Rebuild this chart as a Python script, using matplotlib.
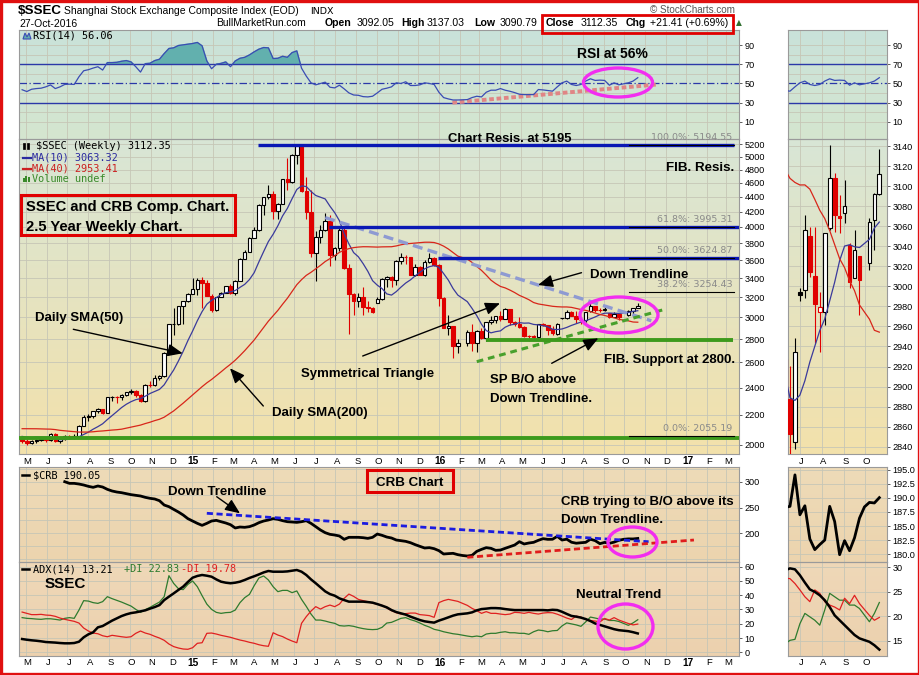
import numpy as np
import pandas as pd
import matplotlib
matplotlib.use('Agg')
import matplotlib.pyplot as plt
import matplotlib.dates as mdates
from matplotlib.patches import Ellipse, Rectangle, Polygon
from matplotlib.ticker import NullLocator, FixedLocator

plt.rcParams['font.family'] = ['Liberation Sans', 'DejaVu Sans']

# ---------------------------------------------------------------- DATA
gap_weeks = ['2016-02-12', '2016-10-07']          # no SSEC trading (holidays)
all_weeks = pd.date_range('2014-05-02', '2016-10-28', freq='W-FRI')
ssec_weeks = all_weeks[~all_weeks.isin(pd.to_datetime(gap_weeks))]
crb_weeks = pd.date_range('2014-07-04', '2016-10-28', freq='W-FRI')

pre_closes = [1992, 2010, 2029, 2052, 2085, 2057, 2098, 2139, 2236, 2191,
              2160, 2174, 2228, 2193, 2183, 2149, 2106, 2135, 2197, 2220,
              2238, 2204, 2085, 2101, 2083, 2013, 2004, 2054, 2033, 2115,
              2113, 2056, 2057, 1999, 2047, 2041, 2058, 2130, 2097, 2036]

opens = [2036, 2026, 2011, 2026, 2034, 2039, 2029, 2070, 2024, 2036,
         2059, 2047, 2059, 2126, 2185, 2194, 2226, 2240, 2217, 2326,
         2331, 2329, 2347, 2364, 2374, 2341, 2302, 2420, 2418, 2478,
         2487, 2683, 2937, 2938, 3108, 3157, 3235, 3285, 3376, 3351,
         3210, 3076, 3204, 3247, 3311, 3241, 3373, 3617, 3692, 3864,
         3958, 4287, 4393, 4442, 4206, 4309, 4657, 4611, 5023, 5166,
         4478, 4192, 3686, 3877, 3957, 4070, 3664, 3744, 3965, 3507,
         3232, 3160, 3200, 3097, 3092, 3143, 3183, 3391, 3412, 3383,
         3590, 3632, 3630, 3436, 3524, 3435, 3578, 3627, 3539, 3186,
         2900, 2916, 2737,
         2763, 2860, 2767, 2874, 2810, 2955, 2979, 3009, 2985, 3078,
         2960, 2938, 2913, 2827, 2825, 2822, 2938, 2927, 2888, 2845,
         2994, 2996, 3050, 3010, 2974, 2974, 3058, 3108, 3070, 3073,
         3041, 3008, 3030,
         3023, 3066, 3092.05]
highs = [2040, 2035, 2033, 2040, 2050, 2045, 2075, 2078, 2045, 2065,
         2062, 2070, 2130, 2200, 2205, 2230, 2248, 2245, 2330, 2335,
         2340, 2350, 2365, 2392, 2380, 2350, 2425, 2450, 2500, 2495,
         2690, 2940, 3091, 3110, 3165, 3240, 3400, 3400, 3406, 3384,
         3230, 3205, 3250, 3312, 3340, 3375, 3620, 3720, 3870, 4000,
         4300, 4400, 4572, 4480, 4320, 4660, 4986, 5050, 5178, 5176,
         4690, 4500, 3950, 4030, 4184, 4150, 3750, 4006, 4000, 3550,
         3240, 3240, 3300, 3160, 3100, 3200, 3400, 3420, 3420, 3600,
         3680, 3660, 3640, 3560, 3530, 3600, 3685, 3640, 3550, 3200,
         3020, 2920, 2800,
         2880, 2940, 2880, 2900, 2960, 3016, 3010, 3060, 3090, 3085,
         2965, 3000, 2920, 2840, 2840, 2940, 2950, 2930, 2921, 2948,
         2998, 3071, 3059, 3059, 2994, 3053, 3141, 3113, 3091, 3106,
         3043, 3056, 3030,
         3068, 3093, 3137.03]
lows = [2010, 1999, 2005, 2010, 2025, 2020, 2025, 2020, 2010, 2030,
        2040, 2040, 2055, 2125, 2160, 2180, 2215, 2205, 2215, 2300,
        2285, 2310, 2340, 2355, 2330, 2295, 2290, 2405, 2410, 2455,
        2485, 2680, 2835, 2925, 2935, 3150, 3230, 3220, 3095, 3210,
        3050, 3060, 3200, 3240, 3230, 3220, 3370, 3610, 3690, 3860,
        3950, 4150, 4370, 4100, 4100, 4300, 4500, 4600, 4880, 4470,
        4100, 3630, 3373, 3800, 3950, 3537, 3600, 3700, 3500, 2850,
        3020, 3100, 3020, 3050, 3040, 3140, 3170, 3300, 3300, 3330,
        3560, 3560, 3430, 3420, 3430, 3420, 3570, 3530, 3115, 2900,
        2840, 2638, 2680,
        2740, 2700, 2690, 2800, 2780, 2940, 2950, 2970, 2980, 2930,
        2920, 2900, 2817, 2780, 2790, 2810, 2920, 2840, 2833, 2838,
        2985, 2988, 3009, 2943, 2934, 2961, 3056, 3054, 3053, 3063,
        2998, 3008, 2971,
        3016, 3036, 3090.79]
closes = [2026, 2011, 2026, 2034, 2039, 2029, 2070, 2024, 2036, 2059,
          2047, 2059, 2126, 2185, 2194, 2226, 2240, 2217, 2326, 2331,
          2329, 2347, 2364, 2374, 2341, 2302, 2420, 2418, 2478, 2487,
          2683, 2937, 2938, 3108, 3157, 3235, 3285, 3376, 3351, 3210,
          3076, 3204, 3247, 3311, 3241, 3373, 3617, 3692, 3864, 3958,
          4287, 4393, 4442, 4206, 4309, 4657, 4611, 5023, 5166, 4478,
          4192, 3686, 3877, 3957, 4070, 3664, 3744, 3965, 3507, 3232,
          3160, 3200, 3097, 3092, 3053, 3183, 3391, 3412, 3383, 3590,
          3632, 3630, 3436, 3524, 3435, 3578, 3627, 3539, 3186, 2900,
          2916, 2737, 2763,
          2860, 2767, 2874, 2810, 2955, 2979, 3009, 2985, 3078, 2960,
          2938, 2913, 2827, 2825, 2822, 2938, 2927, 2885, 2853, 2934,
          2991, 3056, 3014, 2982, 2979, 3053, 3108, 3071, 3068, 3080,
          3004, 3036, 3006,
          3064, 3092, 3112.35]

rsi = [43.5, 41.6, 44, 44.7, 45.1, 46.5, 48.5, 44.7, 46.5, 49,
       49.3, 49, 57, 63.3, 64.4, 66.1, 67.5, 64, 71.8, 71.8,
       72.1, 73.2, 73.9, 72.5, 67.5, 61.9, 70.7, 71.1, 73.9, 75.3,
       81.2, 86.5, 87.2, 89.6, 90.3, 91, 91.7, 92.8, 89.3, 73.5,
       65.4, 70, 71, 72.5, 67.5, 73.5, 76.3, 77.3, 79.8, 83,
       85.8, 87.5, 87.2, 76, 76.3, 78.4, 77.3, 82.2, 84, 66,
       57.7, 50.7, 48.6, 50, 51.4, 46.1, 45.4, 48.2, 44.4, 40.2,
       38, 37.7, 36.3, 36, 36.7, 40.2, 44, 45.1, 46.5, 50.7,
       50, 51.8, 47.9, 47.9, 48.6, 50.7, 50, 49, 40.9, 35.3,
       33.9, 32.8, 32.8,
       33.2, 35.3, 36.7, 36, 40.9, 43, 43, 44.7, 43, 41.9,
       40.5, 38.8, 38.4, 38.4, 38.4, 43.7, 43.3, 42.6, 42, 46.5,
       50.7, 52.5, 49, 47.9, 49, 52.5, 54.9, 53.2, 53.5, 53.2,
       48.2, 50.7, 48.6,
       50.7, 52.5, 56.06]

adx = [9.3, 8.8, 8.4, 8.1, 7.7, 7.2, 7, 6.8, 6.5, 6.3,
       6.3, 6.5, 7.4, 10.5, 12.6, 14, 17.5, 18.4, 20.3, 22.2,
       23.8, 25.4, 26.6, 27.5, 28, 28.7, 29.4, 30.6, 31.7, 33.1,
       36.6, 39, 41.3, 43.7, 46, 49.3, 52.3, 53.5, 54.2, 53.7,
       53, 51.1, 49.5, 48.8, 48.4, 48.8, 49.5, 50.7, 52.1, 53.3,
       54.6, 56, 57, 56.5, 56.5, 56.5, 56.7, 57.2, 57.7, 56.5,
       54.2, 51.1, 48.4, 45.5, 42.7, 40.8, 39.7, 37.8, 36.6, 35.5,
       35.5, 35.5, 35.5, 35.2, 34.8, 33.8, 32.7, 31.5, 29.6, 28.2,
       27.3, 26.4, 25, 23.8, 22.6, 21.7, 21.2, 20.8, 22.2, 23.3,
       24.5, 25.7, 26.6,
       27.3, 28, 29.4, 30.3, 30.6, 31, 31, 30.8, 30.3, 29.9,
       29.6, 29.6, 29.6, 29.6, 29.6, 29.6, 29.6, 29.4, 29.8, 29.6,
       28.4, 26.9, 25.5, 25, 24.3, 23.3, 21.9, 20.2, 19.2, 18.2,
       17.2, 16.2, 15.5,
       14.8, 14.1, 13.21]
plus_di = [24.3, 23.8, 23.6, 23.3, 23.1, 23.5, 23.5, 23.1, 22.6, 23.8,
           24.3, 23.8, 29.6, 36.2, 35.9, 34.8, 34.3, 35.5, 39, 37.6,
           36.4, 35.2, 33.8, 32.4, 30.1, 28, 29.9, 31.5, 33.4, 35.2,
           39, 53.7, 48.3, 44.6, 43.9, 47.6, 50, 46, 39.7, 33.8,
           30.1, 28, 27.3, 27.8, 28, 29.6, 34.8, 38.3, 40.6, 46.7,
           52.1, 53.5, 50.7, 46, 42.5, 43.4, 43.4, 41.8, 43, 37.1,
           32.2, 26.8, 22.6, 22.6, 21.9, 21, 20.3, 18.7, 18.4, 18.7,
           18.2, 17.3, 16.6, 16.1, 15.9, 16.1, 17.5, 20.5, 21, 22.4,
           23.8, 24.3, 22.9, 21.9, 20.5, 18.9, 17.7, 16.1, 15.4, 14.4,
           13.7, 13, 12.6,
           11.4, 10.9, 11.4, 10.9, 12.8, 13.3, 13.3, 14, 14.4, 13.7,
           13.7, 13.3, 13.3, 12.6, 14.4, 15.6, 15.2, 14.4, 15.1, 15.3,
           18.5, 20.6, 19.9, 19.2, 18.2, 21.3, 24.7, 24, 23.3, 23.3,
           22.3, 22.3, 21.6,
           18.9, 20.6, 22.83]
minus_di = [28.2, 27.3, 26.4, 26.4, 26.6, 26.1, 25.9, 25.2, 24, 23.1,
            22.4, 21.7, 20.5, 17, 14.9, 13.5, 13, 11.6, 10.9, 11.9,
            11.4, 10.9, 10.5, 10.9, 13.3, 14.9, 13.5, 12.6, 11.2, 10,
            8.4, 5.8, 4, 3, 2.3, 2.1, 3.2, 6.3, 6.7, 13.3,
            13.5, 12.8, 11.9, 11.2, 10.5, 9.5, 8.6, 7.9, 7, 6.3,
            5.3, 4.6, 4.2, 13.7, 12.1, 11, 9.3, 7.9, 6.7, 20.3,
            25, 28.9, 32, 30.3, 32, 33.1, 32, 33.8, 37.8, 40.8,
            39.2, 37.1, 36.2, 35.5, 34.5, 33.8, 32.9, 31, 29.2, 27.8,
            26.8, 27.1, 27.5, 27.5, 26.4, 26.1, 25.7, 24.5, 34.8, 36.2,
            37.1, 36.4, 35.7,
            32.9, 30.8, 29.2, 27.3, 28.5, 27.3, 27.3, 26.8, 26.4, 26.8,
            28, 27.8, 27.3, 28, 27.3, 26.8, 27.5, 27.8, 27.7, 26.7,
            25.4, 24, 23, 25.4, 24.7, 23, 22.3, 21.9, 21.3, 23.7,
            22.6, 24.3, 22.6,
            20.2, 19.2, 19.78]

crb = [300, 296.8, 296.8, 295.5, 293.6, 291, 289.1, 291.7, 289.7, 285.2,
       282, 280, 278.7, 276.8, 274.9, 273.6, 272.3, 269.7, 267.8, 266.5,
       263.2, 254.8, 251.6, 246.4, 241.3, 235.5, 228.4, 223.8, 219.3, 215.4,
       219.3, 223.8, 225.1, 222.5, 220, 216.7, 210.3, 212.2, 211.6, 212.9,
       216.1, 220.6, 223.8, 225.8, 228.4, 227.1, 224.5, 222.5, 221.9, 221.2,
       222.5, 224.5, 219.3, 212.9, 206.4, 201.2, 198, 196.7, 194.8, 188.3,
       192.2, 192.2, 192.2, 191.5, 190.2, 192.2, 198.6, 196.1, 192.8, 190.9,
       187, 185.7, 184.4, 181.8, 178, 174.7, 171.5, 172.2, 170.2, 166.4,
       159.9, 160.6, 161.2, 158.6, 157, 156, 157.3, 165, 168.9, 172.2,
       170.9, 167, 167.6, 170.9, 174.1, 177.3, 183.8, 179.3, 181.2, 182.5,
       186.4, 189.6, 188.3,
       188.5, 194.1, 187, 188.6, 182.7, 180.8, 181.7, 182.5, 188.5, 185.8,
       179.9, 182.4, 180.6, 182.9, 186.4, 188.4, 189.2, 189.1, 190.05]

# annotation levels / trendlines
res_levels = [5195, 4000, 3625]
res_start = ['2015-04-09', '2015-07-23', '2015-12-31']
res_end = ['2017-03-12', '2017-03-21', '2017-03-21']
green_levels = [2045, 2795]
green_start = ['2014-04-15', '2016-03-11']
green_end = ['2017-03-21', '2017-03-10']
fib_levels = [5194.55, 3995.31, 3624.87, 3254.43, 2055.19]
fib_pcts = ['100.0%', '61.8%', '50.0%', '38.2%', '0.0%']
down_tl_dates = ['2015-07-17', '2016-11-10']
down_tl_vals = [4120, 2968]
tri_dates = ['2016-02-26', '2016-12-01']
tri_vals = [2606, 3080]
rsi_tl_dates = ['2016-01-21', '2016-11-19']
rsi_tl_vals = [30, 49]
crb_dn_dates = ['2015-01-23', '2016-11-06']
crb_dn_vals = [238.8, 183.7]
crb_up_dates = ['2016-02-12', '2017-01-12']
crb_up_vals = [153.5, 187]

# ---------------------------------------------------------------- FIGURE
W, H = 920, 675
fig = plt.figure(figsize=(9.2, 6.75), dpi=100)
fig.patch.set_facecolor('white')


def frac(x0, y0, x1, y1):
    return [x0 / W, 1 - y1 / H, (x1 - x0) / W, (y1 - y0) / H]


def gradient_bg(r, top, bottom):
    bg = fig.add_axes(frac(*r), zorder=0)
    t = np.array(matplotlib.colors.to_rgb(top))
    b = np.array(matplotlib.colors.to_rgb(bottom))
    c = np.linspace(0, 1, 200)[:, None, None]
    img = t[None, None, :] * (1 - c) + b[None, None, :] * c
    bg.imshow(img, aspect='auto', extent=[0, 1, 0, 1])
    bg.axis('off')


def panel(r, top, bottom):
    gradient_bg(r, top, bottom)
    ax = fig.add_axes(frac(*r), zorder=1)
    ax.set_facecolor('none')
    for s in ax.spines.values():
        s.set_color('#9a9a9a')
        s.set_linewidth(0.8)
    ax.yaxis.tick_right()
    ax.tick_params(axis='y', labelsize=6.6, length=2.5, width=0.6, pad=1.5,
                   color='#444444')
    ax.tick_params(axis='x', length=0, labelbottom=False)
    return ax


MX0, MX1, RX0, RX1 = 19, 739, 788, 887
Y_RSI, Y_PX, Y_PXB, Y_CRB, Y_ADX, Y_ADXB = 30, 139, 454, 467, 562, 656

RSI_BG = ('#c9e2da', '#d5e6cf')
PX_BG = ('#d8e6d6', '#f3e1ab')
CRB_BG = ('#eedbb8', '#ecd4ae')
ADX_BG = ('#efd8b8', '#ecd1ae')

ax_rsi = panel((MX0, Y_RSI, MX1, Y_PX), *RSI_BG)
ax_px = panel((MX0, Y_PX, MX1, Y_PXB), *PX_BG)
ax_crb = panel((MX0, Y_CRB, MX1, Y_ADX), *CRB_BG)
ax_adx = panel((MX0, Y_ADX, MX1, Y_ADXB), *ADX_BG)
rx_rsi = panel((RX0, Y_RSI, RX1, Y_PX), *RSI_BG)
rx_px = panel((RX0, Y_PX, RX1, Y_PXB), *PX_BG)
rx_crb = panel((RX0, Y_CRB, RX1, Y_ADX), *CRB_BG)
rx_adx = panel((RX0, Y_ADX, RX1, Y_ADXB), *ADX_BG)

base = mdates.date2num(pd.Timestamp('2015-01-01'))
main_xlim = (base - 255.6, base + 808.6)
r0 = mdates.date2num(pd.Timestamp('2016-06-17'))
right_xlim = (r0 - 2.8, r0 + 136.8)

# bar position = previous Friday (StockCharts weekly placement)
xs = mdates.date2num(ssec_weeks - pd.Timedelta(days=7))
xc = mdates.date2num(crb_weeks - pd.Timedelta(days=7))

O = np.array(opens, float)
Hh = np.array(highs, float)
L = np.array(lows, float)
C = np.array(closes, float)
allc = pd.Series(pre_closes + closes, dtype=float)
ma10 = allc.rolling(10).mean().values[len(pre_closes):]
ma40 = allc.rolling(40).mean().values[len(pre_closes):]
prev = np.r_[pre_closes[-1], C[:-1]]

RED = '#e00000'
GRID = '#c6c6b6'


def grid(ax, xlim, ylevels, months):
    for m in months:
        ax.axvline(m, color=GRID, lw=0.6, zorder=0.5)
    for yv in ylevels:
        ax.axhline(yv, color=GRID, lw=0.6, zorder=0.5)


main_months = pd.date_range('2014-05-01', '2017-03-01', freq='MS')
right_months = pd.date_range('2016-07-01', '2016-10-01', freq='MS')
mm_num = mdates.date2num(main_months)
rm_num = mdates.date2num(right_months)


def candles(ax, width):
    cols = np.where(C < prev, RED, 'black')
    hollow = C >= O
    ax.vlines(xs, L, Hh, colors=cols, lw=0.8, zorder=3)
    bottoms = np.minimum(O, C)
    heights = np.maximum(np.abs(C - O), 0.3)
    faces = [('white' if h else c) for h, c in zip(hollow, cols)]
    ax.bar(xs, heights, width, bottom=bottoms, color=faces, edgecolor=cols,
           linewidth=0.8, zorder=4)


# ---------------- RSI
for ax, xl in ((ax_rsi, main_xlim), (rx_rsi, right_xlim)):
    months = mm_num if ax is ax_rsi else rm_num
    grid(ax, xl, [10, 20, 40, 60, 80, 90], months)
    r = np.array(rsi)
    ax.fill_between(xs, r, 70, where=r > 70, interpolate=True,
                    color='#62b0ae', zorder=1)
    ax.axhline(70, color='#2b38a8', lw=1.0, zorder=2)
    ax.axhline(30, color='#2b38a8', lw=1.0, zorder=2)
    ax.axhline(50, color='#2b38a8', lw=0.9, ls=(0, (6, 2, 1, 2)), zorder=2)
    ax.plot(xs, r, color='#3a4cb4', lw=0.9, zorder=3)
    ax.set_xlim(*xl)
    ax.set_ylim(-7.9, 105.8)
    ax.set_yticks([10, 30, 50, 70, 90])
    ax.set_xticks([])

ax_rsi.plot(mdates.date2num(pd.to_datetime(rsi_tl_dates)), rsi_tl_vals,
            color='#e08585', lw=2.8, ls=(0, (1.2, 0.7)), zorder=2.5)

# ---------------- PRICE
ptick = list(range(2000, 5201, 200))
ax_px.set_yscale('log')
grid(ax_px, main_xlim, ptick, mm_num)
candles(ax_px, 5.2)
ax_px.plot(xs, ma10, color='#3a3a9c', lw=0.9, zorder=5)
ax_px.plot(xs, ma40, color='#d8261a', lw=0.9, zorder=5)
ax_px.set_xlim(*main_xlim)
ax_px.set_ylim(1943, 5290)
ax_px.yaxis.set_major_locator(FixedLocator(ptick))
ax_px.yaxis.set_minor_locator(NullLocator())
ax_px.set_yticklabels([str(t) for t in ptick])
ax_px.set_xticks([])

for lv, s, e in zip(res_levels, res_start, res_end):
    ax_px.plot(mdates.date2num(pd.to_datetime([s, e])), [lv, lv],
               color='#0a18b4', lw=2.4, zorder=6, solid_capstyle='butt')
for lv, s, e in zip(green_levels, green_start, green_end):
    ax_px.plot(mdates.date2num(pd.to_datetime([s, e])), [lv, lv],
               color='#3d9a1c', lw=2.8, zorder=6, solid_capstyle='butt')
fib_x0 = base + 645.8
fib_x1 = base + 801.0
fib_lx = base + 799.3
for lv, p in zip(fib_levels, fib_pcts):
    ax_px.plot([fib_x0, fib_x1], [lv, lv], color='black', lw=0.8, zorder=7)
    ax_px.annotate(f'{p}: {lv:.2f}', xy=(fib_lx, lv), xytext=(0, 5.4),
                   textcoords='offset points', ha='right', va='center',
                   fontsize=6.8, color='#8a8a8a', family='DejaVu Sans',
                   zorder=7, annotation_clip=False)
ax_px.plot(mdates.date2num(pd.to_datetime(down_tl_dates)), down_tl_vals,
           color='#8e9ad2', lw=2.4, ls=(0, (3, 1.6)), zorder=5.5)
ax_px.plot(mdates.date2num(pd.to_datetime(tri_dates)), tri_vals,
           color='#48a02c', lw=2.2, ls=(0, (2.2, 1.6)), zorder=5.5)

# right price panel
grid(rx_px, right_xlim, list(range(2840, 3141, 20)), rm_num)
cols = np.where(C < prev, RED, 'black')
rx_px.vlines(xs, L, Hh, colors=cols, lw=0.8, zorder=3)
rx_px.bar(xs, np.maximum(np.abs(C - O), 0.3), 5.2, bottom=np.minimum(O, C),
          color=[('white' if h else c) for h, c in zip(C >= O, cols)],
          edgecolor=cols, linewidth=0.8, zorder=4)
rx_px.plot(xs, ma10, color='#3a3a9c', lw=0.9, zorder=5)
rx_px.plot(xs, ma40, color='#d8261a', lw=0.9, zorder=5)
rx_px.set_xlim(*right_xlim)
rx_px.set_ylim(2832.7, 3147)
rx_px.set_yticks(list(range(2840, 3141, 20)))
rx_px.set_xticks([])

# ---------------- CRB
grid(ax_crb, main_xlim, [150, 175, 200, 225, 250, 275, 300, 325], mm_num)
ax_crb.plot(xc, crb, color='black', lw=2.0, zorder=3)
ax_crb.plot(mdates.date2num(pd.to_datetime(crb_dn_dates)), crb_dn_vals,
            color='#1c1ce0', lw=2.0, ls=(0, (2.2, 1.3)), zorder=4)
ax_crb.plot(mdates.date2num(pd.to_datetime(crb_up_dates)), crb_up_vals,
            color='#e01c1c', lw=2.0, ls=(0, (2.2, 1.3)), zorder=4)
ax_crb.set_xlim(*main_xlim)
ax_crb.set_ylim(144.4, 328.5)
ax_crb.set_yticks([200, 250, 300])
ax_crb.set_xticks([])

crb_rt = [180, 182.5, 185, 187.5, 190, 192.5, 195]
grid(rx_crb, right_xlim, crb_rt, rm_num)
rx_crb.plot(xc, crb, color='black', lw=2.0, zorder=3)
rx_crb.set_xlim(*right_xlim)
rx_crb.set_ylim(178.6, 195.5)
rx_crb.set_yticks(crb_rt)
rx_crb.set_yticklabels([f'{v:.1f}' for v in crb_rt])
rx_crb.set_xticks([])

# ---------------- ADX
for ax, xl, yl, yt in ((ax_adx, main_xlim, (-2.6, 63.3), list(range(0, 61, 10))),
                       (rx_adx, right_xlim, (11.9, 31.1), [15, 20, 25, 30])):
    months = mm_num if ax is ax_adx else rm_num
    grid(ax, xl, yt, months)
    ax.plot(xs, plus_di, color='#2e7b2e', lw=0.9, zorder=3)
    ax.plot(xs, minus_di, color='#e02020', lw=0.9, zorder=3)
    ax.plot(xs, adx, color='black', lw=1.8, zorder=4)
    ax.set_xlim(*xl)
    ax.set_ylim(*yl)
    ax.set_yticks(yt)
    ax.set_xticks([])

# ---------------- x labels


def month_labels(ax, months, dy):
    for m in months:
        if m.month == 1:
            lab, fw = m.strftime('%y'), 'bold'
        else:
            lab, fw = m.strftime('%b')[0], 'normal'
        ax.annotate(lab, xy=(mdates.date2num(m), 0),
                    xycoords=('data', 'axes fraction'), xytext=(1, dy),
                    textcoords='offset points', ha='center', va='center',
                    fontsize=7.3 if fw == 'bold' else 6.8, fontweight=fw,
                    annotation_clip=False)


month_labels(ax_px, main_months, -5.2)
month_labels(ax_adx, main_months, -5.0)
month_labels(rx_px, right_months, -5.2)
month_labels(rx_adx, right_months, -5.0)

# ---------------- overlay (pixel coordinates)
ov = fig.add_axes([0, 0, 1, 1], zorder=10)
ov.set_xlim(0, W)
ov.set_ylim(H, 0)
ov.axis('off')
ov.set_facecolor('none')


def T(x, y, s, size=9.5, weight='bold', color='black', family='Liberation Sans',
      ha='left', va='center'):
    ov.text(x, y, s, fontsize=size, fontweight=weight, color=color,
            family=family, ha=ha, va=va)


def arrow(x0, y0, x1, y1):
    ov.annotate('', xy=(x1, y1), xytext=(x0, y0),
                arrowprops=dict(arrowstyle='-|>,head_length=0.9,head_width=0.38',
                                lw=1.0, color='black', mutation_scale=10,
                                shrinkA=0, shrinkB=0))


# header
T(18, 10.5, '$SSEC', size=9.6)
T(64, 11, 'Shanghai Stock Exchange Composite Index (EOD)', size=7.5, weight='normal')
T(310, 11, 'INDX', size=6.8, weight='normal', family='DejaVu Sans')
T(650, 10, '© StockCharts.com', size=7.1, weight='normal', color='#555555')
T(19, 24, '27-Oct-2016', size=7.5, weight='normal')
T(216, 23, 'BullMarketRun.com', size=7.4, weight='normal')
hdr = [(325, 'Open', 'bold'), (356.5, '3092.05', 'normal'),
       (401.5, 'High', 'bold'), (426.5, '3137.03', 'normal'),
       (474, 'Low', 'bold'), (500, '3090.79', 'normal'),
       (546, 'Close', 'bold'), (580.5, '3112.35', 'normal'),
       (625.5, 'Chg', 'bold'), (650.5, '+21.41 (+0.69%)', 'normal')]
for x, s, w in hdr:
    T(x, 23.5, s, size=7.6, weight=w)
ov.add_patch(Rectangle((542, 15), 191, 17.5, fill=False, ec=RED, lw=2.0))
T(736, 23, '▲', size=5.5, weight='normal', color='#2f6f2f', family='DejaVu Sans')

# legends
MONO = 'DejaVu Sans Mono'
ov.add_patch(Polygon([[23, 39], [25, 33], [27, 37], [29, 33], [31, 39]],
                     closed=True, fc='#62b0ae', ec='#3a4cb4', lw=0.8))
T(33, 36, 'RSI(14) 56.06', size=7.4, weight='normal', family=MONO)
for dx in (23, 27):
    ov.add_patch(Rectangle((dx, 143), 2.5, 6, fc='black', ec='black', lw=0.5))
T(36, 146, '$SSEC (Weekly) 3112.35', size=7.4, weight='normal', family=MONO)
ov.plot([23, 31], [157.5, 157.5], color='#2a2aa0', lw=1.6)
T(32.5, 157.5, 'MA(10) 3063.32', size=7.4, weight='normal', family=MONO, color='#2a2aa0')
ov.plot([23, 31], [168.5, 168.5], color='#cc2020', lw=1.6)
T(32.5, 168.5, 'MA(40) 2953.41', size=7.4, weight='normal', family=MONO, color='#cc2020')
for dx, hh in ((23, 4), (25.5, 6), (28, 5)):
    ov.add_patch(Rectangle((dx, 182 - hh), 2, hh, fc='#3a8a2a', ec='none'))
T(32.5, 179, 'Volume undef', size=7.4, weight='normal', family=MONO, color='#3a8a2a')
ov.plot([22, 29], [475, 475], color='black', lw=1.8)
T(33, 475, '$CRB 190.05', size=7.4, weight='normal', family=MONO)
ov.plot([22, 29], [569, 569], color='black', lw=1.8)
T(33, 569, 'ADX(14) 13.21', size=7.4, weight='normal', family=MONO)
T(124, 569, '+DI 22.83', size=7.4, weight='normal', family=MONO, color='#2e7b2e')
T(181.5, 569, '-DI 19.78', size=7.4, weight='normal', family=MONO, color='#e02020')

# annotations
T(577, 54.5, 'RSI at 56%', size=10)
T(448, 139.5, 'Chart Resis. at 5195', size=9.4)
T(666.5, 168, 'FIB. Resis.', size=9.6)
ov.add_patch(Rectangle((21, 195), 214, 40, fill=False, ec=RED, lw=2.2))
T(26, 207.5, 'SSEC and CRB Comp. Chart.', size=10.6)
T(26, 227.5, '2.5 Year Weekly Chart.', size=10.6)
T(590, 274.5, 'Down Trendline', size=9.5)
arrow(581.5, 272.7, 538, 285)
T(35, 318.5, 'Daily SMA(50)', size=9.5)
arrow(73.3, 329.3, 182.7, 353.3)
T(301.5, 374.5, 'Symmetrical Triangle', size=9.5)
arrow(362.7, 356, 500, 303.3)
T(272.5, 413, 'Daily SMA(200)', size=9.5)
arrow(263.3, 406, 230, 368.3)
T(490.5, 380, 'SP B/O above', size=9.5)
T(490.5, 398.5, 'Down Trendline.', size=9.5)
arrow(551.7, 363.3, 598.3, 338.3)
T(604, 360.5, 'FIB. Support at 2800.', size=9.5)
ov.add_patch(Rectangle((367, 470), 86.5, 21.5, fill=False, ec=RED, lw=2.2))
T(410, 482.5, 'CRB Chart', size=9.6, ha='center')
T(168.3, 492, 'Down Trendline', size=9.5)
arrow(216.7, 496.7, 240, 513.3)
T(561.5, 502, 'CRB trying to B/O above its', size=9.5)
T(561.5, 520.3, 'Down Trendline.', size=9.5)
T(45, 583.5, 'SSEC', size=11)
T(576.5, 594.5, 'Neutral Trend', size=9.5)

MAG = '#f22df0'
for cx, cy, w, h in ((618, 82.5, 69, 29), (619, 315, 78, 36),
                     (632.5, 542, 49, 30), (625.5, 626.5, 55, 45)):
    ov.add_patch(Ellipse((cx, cy), w, h, fill=False, ec=MAG, lw=2.4))

# outer red frame
ov.add_patch(Rectangle((1, 1), W - 2, H - 2, fill=False, ec='#e01010', lw=2.4))

fig.savefig('out.png', dpi=100)
